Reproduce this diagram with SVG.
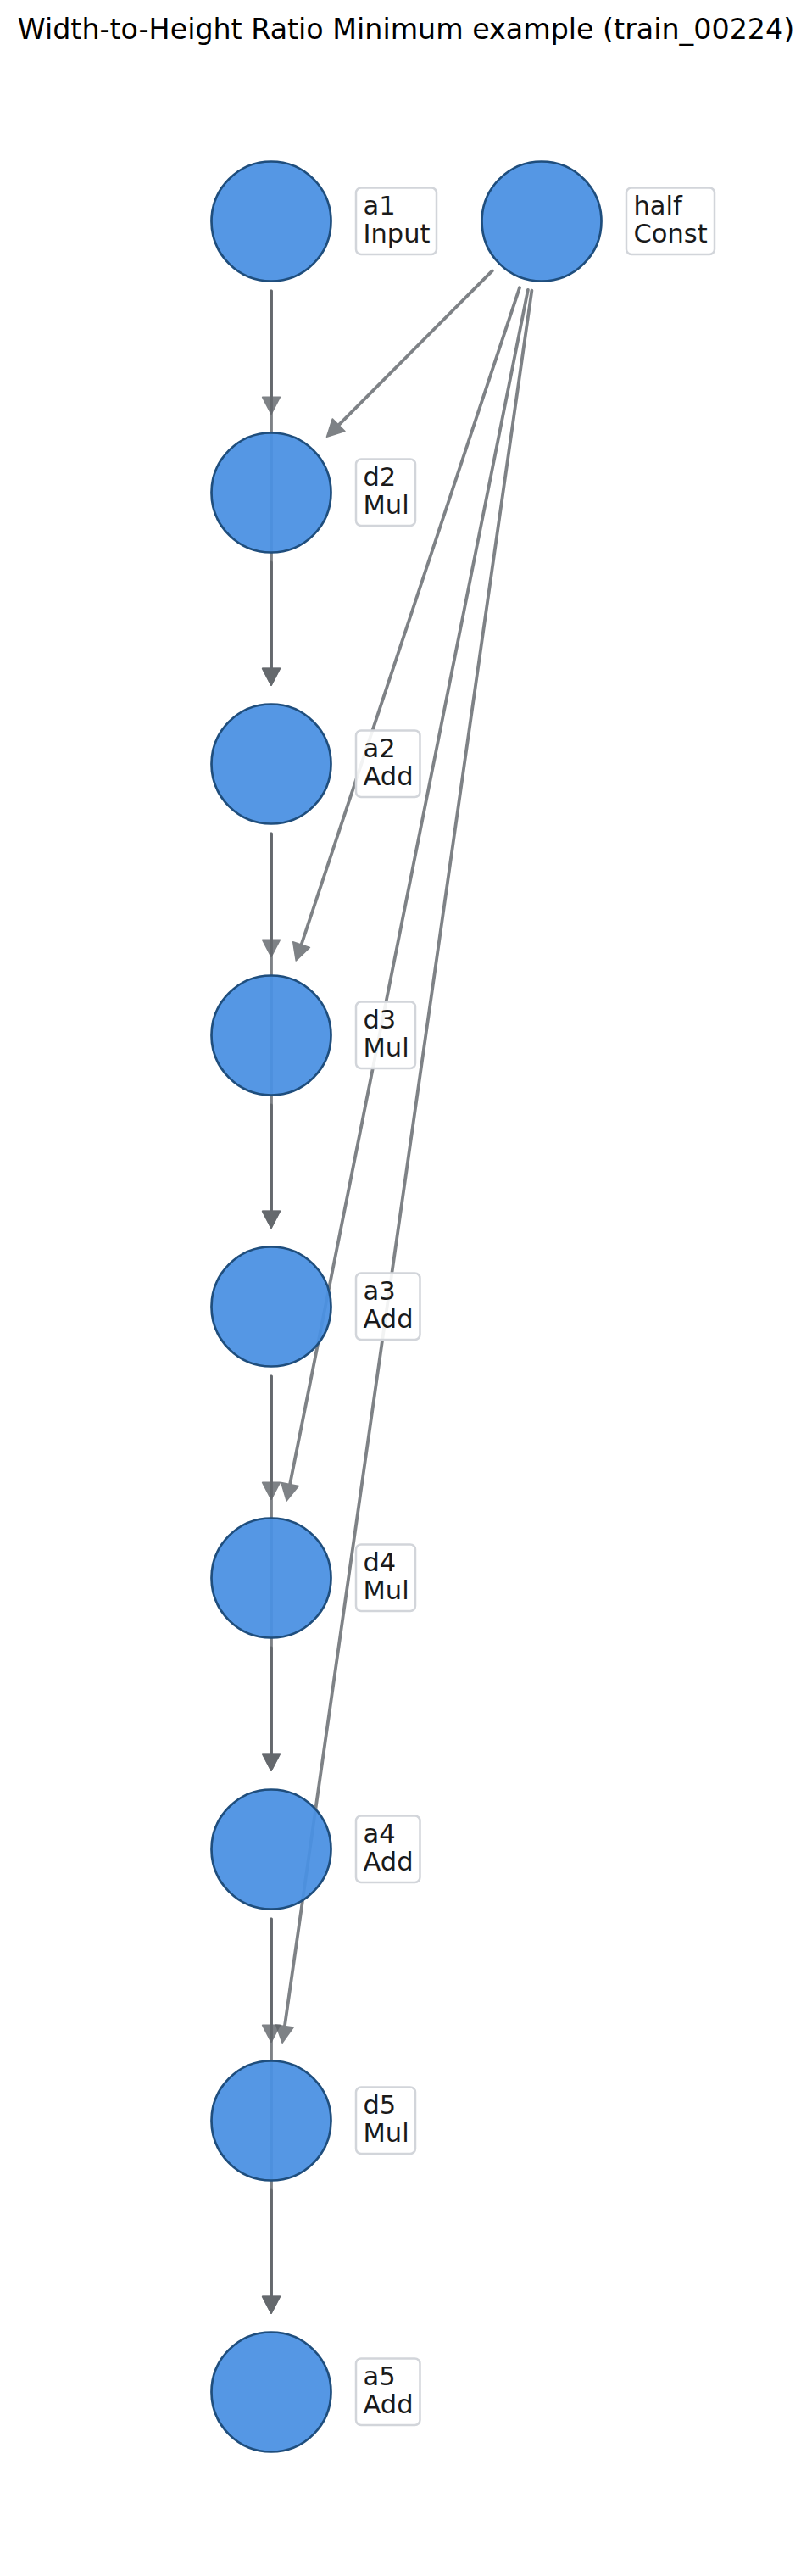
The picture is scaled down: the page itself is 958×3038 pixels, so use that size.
<svg xmlns="http://www.w3.org/2000/svg" width="958" height="3038" viewBox="0 0 958 3038">
<style>
.node{fill:#4a90e2;fill-opacity:0.94;stroke:#1f4e7d;stroke-width:2.7}
.lbl{fill:#ffffff;fill-opacity:0.9;stroke:#d2d5da;stroke-width:2.5}
.t{font-family:"DejaVu Sans",sans-serif;font-size:30.5px;fill:#1a1a1a}
.title{font-family:"DejaVu Sans",sans-serif;font-size:33.3px;fill:#000000}
.e{opacity:0.8}
.e line{stroke:#5f6368;stroke-width:3.8;stroke-linecap:round}
.e polygon{fill:#5f6368;stroke:#5f6368;stroke-width:1.5;stroke-linejoin:round}
</style>
<rect width="958" height="3038" fill="#ffffff"/>
<text class="title" x="479" y="46" text-anchor="middle">Width-to-Height Ratio Minimum example (train_00224)</text>
<g id="edges">
<g class="e"><line x1="320" y1="343.5" x2="320" y2="478"/><polygon points="320,488.3 309.6,468.3 330.4,468.3"/></g>
<g class="e"><line x1="320" y1="343.5" x2="320" y2="798"/><polygon points="320,808.3 309.6,788.3 330.4,788.3"/></g>
<g class="e"><line x1="320" y1="663.5" x2="320" y2="798"/><polygon points="320,808.3 309.6,788.3 330.4,788.3"/></g>
<g class="e"><line x1="320" y1="983.5" x2="320" y2="1118"/><polygon points="320,1128.3 309.6,1108.3 330.4,1108.3"/></g>
<g class="e"><line x1="320" y1="983.5" x2="320" y2="1438"/><polygon points="320,1448.3 309.6,1428.3 330.4,1428.3"/></g>
<g class="e"><line x1="320" y1="1303.5" x2="320" y2="1438"/><polygon points="320,1448.3 309.6,1428.3 330.4,1428.3"/></g>
<g class="e"><line x1="320" y1="1623.5" x2="320" y2="1758"/><polygon points="320,1768.3 309.6,1748.3 330.4,1748.3"/></g>
<g class="e"><line x1="320" y1="1623.5" x2="320" y2="2078"/><polygon points="320,2088.3 309.6,2068.3 330.4,2068.3"/></g>
<g class="e"><line x1="320" y1="1943.5" x2="320" y2="2078"/><polygon points="320,2088.3 309.6,2068.3 330.4,2068.3"/></g>
<g class="e"><line x1="320" y1="2263.5" x2="320" y2="2398"/><polygon points="320,2408.3 309.6,2388.3 330.4,2388.3"/></g>
<g class="e"><line x1="320" y1="2263.5" x2="320" y2="2718"/><polygon points="320,2728.3 309.6,2708.3 330.4,2708.3"/></g>
<g class="e"><line x1="320" y1="2583.5" x2="320" y2="2718"/><polygon points="320,2728.3 309.6,2708.3 330.4,2708.3"/></g>
<g class="e"><line x1="580.75" y1="319.43" x2="392.5" y2="508.3"/><polygon points="385.45,515.34 392.2,493.9 406.9,508.6"/></g>
<g class="e"><line x1="612.98" y1="339.29" x2="352.4" y2="1123.5"/><polygon points="349.23,1133.03 345.7,1110.8 365.4,1117.4"/></g>
<g class="e"><line x1="622.87" y1="341.91" x2="340.1" y2="1760.3"/><polygon points="338.13,1770.09 331.8,1748.5 352.2,1752.5"/></g>
<g class="e"><line x1="627.37" y1="342.67" x2="334.5" y2="2399.3"/><polygon points="333.07,2409.23 325.6,2387.9 346.2,2390.9"/></g>
</g>
<g id="node-a1"><circle class="node" cx="320" cy="261" r="70.5"/><rect class="lbl" x="420" y="221.5" width="95" height="78.5" rx="6"/><text class="t" x="428.5" y="252.5">a1</text><text class="t" x="428.5" y="286">Input</text></g>
<g id="node-half"><circle class="node" cx="639" cy="261" r="70.5"/><rect class="lbl" x="739" y="221.5" width="104" height="78.5" rx="6"/><text class="t" x="747.5" y="252.5">half</text><text class="t" x="747.5" y="286">Const</text></g>
<g id="node-d2"><circle class="node" cx="320" cy="581" r="70.5"/><rect class="lbl" x="420" y="541.5" width="70" height="78.5" rx="6"/><text class="t" x="428.5" y="572.5">d2</text><text class="t" x="428.5" y="606">Mul</text></g>
<g id="node-a2"><circle class="node" cx="320" cy="901" r="70.5"/><rect class="lbl" x="420" y="861.5" width="75.5" height="78.5" rx="6"/><text class="t" x="428.5" y="892.5">a2</text><text class="t" x="428.5" y="926">Add</text></g>
<g id="node-d3"><circle class="node" cx="320" cy="1221" r="70.5"/><rect class="lbl" x="420" y="1181.5" width="70" height="78.5" rx="6"/><text class="t" x="428.5" y="1212.5">d3</text><text class="t" x="428.5" y="1246">Mul</text></g>
<g id="node-a3"><circle class="node" cx="320" cy="1541" r="70.5"/><rect class="lbl" x="420" y="1501.5" width="75.5" height="78.5" rx="6"/><text class="t" x="428.5" y="1532.5">a3</text><text class="t" x="428.5" y="1566">Add</text></g>
<g id="node-d4"><circle class="node" cx="320" cy="1861" r="70.5"/><rect class="lbl" x="420" y="1821.5" width="70" height="78.5" rx="6"/><text class="t" x="428.5" y="1852.5">d4</text><text class="t" x="428.5" y="1886">Mul</text></g>
<g id="node-a4"><circle class="node" cx="320" cy="2181" r="70.5"/><rect class="lbl" x="420" y="2141.5" width="75.5" height="78.5" rx="6"/><text class="t" x="428.5" y="2172.5">a4</text><text class="t" x="428.5" y="2206">Add</text></g>
<g id="node-d5"><circle class="node" cx="320" cy="2501" r="70.5"/><rect class="lbl" x="420" y="2461.5" width="70" height="78.5" rx="6"/><text class="t" x="428.5" y="2492.5">d5</text><text class="t" x="428.5" y="2526">Mul</text></g>
<g id="node-a5"><circle class="node" cx="320" cy="2821" r="70.5"/><rect class="lbl" x="420" y="2781.5" width="75.5" height="78.5" rx="6"/><text class="t" x="428.5" y="2812.5">a5</text><text class="t" x="428.5" y="2846">Add</text></g>
</svg>
